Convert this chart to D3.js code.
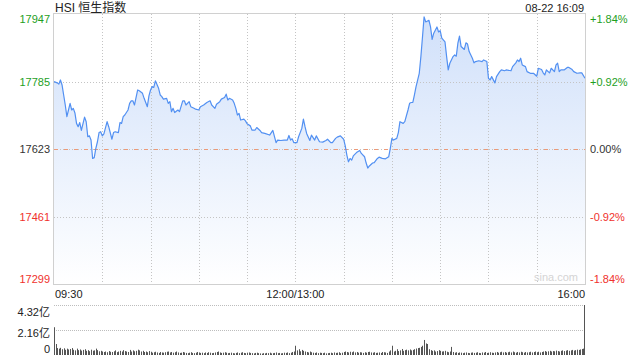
<!DOCTYPE html>
<html>
<head>
<meta charset="utf-8">
<script src="https://cdn.jsdelivr.net/npm/d3@7"></script>
<style>
  body { margin: 0; background: #fff; }
  text { font-family: "Liberation Sans", Arial, "Noto Sans CJK SC", sans-serif; }
</style>
</head>
<body>
<div id="chart"></div>
<script>
// trading minutes from 09:30 (0..150 morning, 150..330 afternoon 13:00-16:00)
var minutes = [0,2,3,4,5,6,7,8,9,10,11,12,13,14,15,16,17,19,20,21,22,23,24,25,26,27,28,29,30,31,33,34,36,37,38,40,41,42,43,44,46,47,48,49,50,52,53,55,56,58,59,60,61,62,63,65,66,67,68,70,71,72,73,74,75,77,78,80,81,82,84,85,87,88,90,91,93,95,97,98,100,101,103,104,106,107,108,109,111,112,113,114,115,116,118,119,120,122,123,125,126,128,129,131,134,136,138,139,141,143,145,146,147,148,149,151,152,154,155,156,157,159,160,162,163,165,167,169,170,172,173,175,176,178,180,181,182,183,184,185,186,188,190,191,193,194,195,196,198,199,201,202,204,206,208,209,210,211,213,214,215,217,218,220,221,222,223,224,225,227,228,229,230,231,233,234,235,236,238,239,240,241,243,244,245,246,248,249,250,251,252,253,255,256,257,258,260,261,262,264,266,267,269,270,271,272,274,275,277,278,280,281,284,285,287,288,289,290,291,293,294,296,298,300,301,303,304,305,306,308,309,311,312,313,314,315,317,319,320,322,323,325,327,328,330];
var prices = [17785,17782,17779,17789,17777,17753,17729,17701,17717,17733,17717,17721,17710,17685,17677,17687,17668,17700,17689,17653,17655,17645,17601,17603,17625,17641,17663,17665,17655,17660,17689,17677,17647,17663,17665,17663,17687,17685,17701,17705,17717,17733,17739,17739,17729,17765,17763,17757,17745,17725,17751,17765,17773,17771,17787,17769,17753,17749,17743,17745,17733,17737,17713,17721,17711,17717,17713,17739,17739,17729,17737,17725,17721,17719,17717,17725,17729,17735,17739,17729,17721,17731,17737,17743,17747,17755,17741,17745,17741,17733,17721,17705,17709,17693,17695,17691,17684,17679,17669,17669,17675,17668,17663,17661,17657,17668,17639,17645,17644,17645,17645,17656,17645,17648,17639,17639,17653,17673,17695,17677,17661,17644,17657,17645,17655,17641,17640,17644,17647,17639,17639,17649,17652,17655,17647,17631,17609,17593,17601,17597,17607,17615,17620,17613,17605,17590,17578,17583,17590,17591,17601,17604,17601,17600,17605,17625,17649,17645,17649,17663,17689,17685,17689,17717,17733,17735,17735,17753,17773,17805,17845,17892,17940,17928,17932,17916,17886,17901,17916,17904,17907,17889,17880,17845,17813,17829,17845,17849,17846,17877,17894,17869,17862,17878,17875,17857,17841,17830,17833,17835,17833,17837,17833,17793,17789,17797,17782,17797,17809,17813,17811,17813,17811,17821,17830,17837,17833,17841,17825,17821,17809,17805,17805,17798,17817,17814,17806,17801,17813,17806,17817,17809,17825,17829,17809,17813,17813,17819,17819,17814,17809,17805,17806,17806,17793];

// volume per minute, 亿 (index = trading minute, last = closing auction)
var volumes = [2.40,
  0.95,0.60,0.55,0.62,0.50,0.58,0.45,0.55,0.48,0.52,
  0.60,0.45,0.40,0.55,0.42,0.48,0.38,0.44,0.50,0.36,
  0.42,0.33,0.46,0.37,0.40,0.55,0.42,0.32,0.36,0.30,
  0.26,0.30,0.24,0.34,0.28,0.26,0.32,0.40,0.25,0.30,
  0.36,0.30,0.42,0.34,0.30,0.26,0.44,0.30,0.40,0.32,
  0.36,0.46,0.40,0.30,0.36,0.26,0.30,0.24,0.34,0.28,
  0.20,0.24,0.28,0.22,0.18,0.26,0.22,0.20,0.24,0.28,
  0.30,0.22,0.26,0.20,0.24,0.30,0.22,0.18,0.20,0.26,
  0.22,0.18,0.16,0.20,0.24,0.18,0.16,0.20,0.26,0.22,
  0.18,0.20,0.16,0.22,0.18,0.24,0.20,0.16,0.18,0.22,
  0.26,0.30,0.22,0.18,0.20,0.24,0.20,0.16,0.18,0.20,
  0.16,0.14,0.18,0.22,0.16,0.20,0.24,0.18,0.16,0.20,
  0.22,0.18,0.16,0.14,0.18,0.20,0.16,0.14,0.12,0.16,
  0.14,0.18,0.16,0.20,0.14,0.16,0.18,0.22,0.16,0.18,
  0.14,0.16,0.20,0.18,0.22,0.16,0.20,0.26,0.30,0.80,
  0.40,0.50,0.32,0.44,0.36,0.30,0.26,0.22,0.30,0.24,
  0.20,0.18,0.22,0.16,0.20,0.18,0.16,0.20,0.14,0.16,
  0.18,0.20,0.16,0.22,0.18,0.20,0.24,0.16,0.20,0.26,
  0.30,0.26,0.22,0.28,0.24,0.30,0.22,0.26,0.20,0.24,
  0.22,0.18,0.24,0.20,0.26,0.28,0.22,0.20,0.24,0.18,
  0.20,0.22,0.18,0.26,0.24,0.22,0.18,0.30,0.40,0.80,
  0.30,0.36,0.50,0.34,0.40,0.52,0.36,0.42,0.46,0.40,
  0.48,0.40,0.44,0.50,0.56,0.60,0.62,0.70,0.80,1.30,
  1.00,0.95,0.50,0.42,0.36,0.40,0.30,0.34,0.42,0.36,
  0.30,0.32,0.36,0.28,0.24,0.30,0.70,0.26,0.20,0.24,
  0.18,0.22,0.20,0.16,0.20,0.22,0.18,0.16,0.20,0.22,
  0.18,0.20,0.24,0.18,0.16,0.22,0.20,0.26,0.18,0.20,
  0.24,0.20,0.18,0.22,0.26,0.20,0.24,0.28,0.22,0.26,
  0.20,0.24,0.28,0.22,0.30,0.24,0.20,0.26,0.22,0.28,
  0.24,0.20,0.26,0.22,0.24,0.28,0.22,0.26,0.30,0.24,
  0.28,0.22,0.26,0.30,0.34,0.28,0.32,0.36,0.30,0.34,
  0.32,0.38,0.34,0.30,0.36,0.40,0.34,0.38,0.42,0.36,
  0.40,0.44,0.38,0.42,0.46,0.44,0.48,0.52,0.55,4.32];

var prevClose = 17623;
var priceTicks = [17947, 17785, 17623, 17461, 17299];
var pctLabels = ["+1.84%", "+0.92%", "0.00%", "-0.92%", "-1.84%"];
var timeLabels = ["09:30", "12:00/13:00", "16:00"];
var timeTickPos = [0, 150, 330];
var volTicks = [4.32, 2.16, 0];
var volLabels = ["4.32亿", "2.16亿", "0"];

function drawChart() {
  var W = 640, H = 360;
  var pLeft = 54, pRight = 585, pTop = 14, pBottom = 284.5;
  var vTop = 305, vBottom = 355;

  var svg = d3.select("#chart").append("svg")
    .attr("width", W).attr("height", H)
    .style("display", "block");

  var x = d3.scaleLinear().domain([0, 330]).range([pLeft, pRight]);
  var y = d3.scaleLinear().domain([17299, 17947]).range([pBottom, pTop]);
  var yv = d3.scaleLinear().domain([0, 4.32]).range([vBottom, vTop]);

  function colorFor(v) {
    if (v > prevClose) return "#1ea01e";
    if (v < prevClose) return "#f0312c";
    return "#333";
  }

  // gradient for the area
  var grad = svg.append("defs").append("linearGradient")
    .attr("id", "fillGrad")
    .attr("gradientUnits", "userSpaceOnUse")
    .attr("x1", 0).attr("x2", 0)
    .attr("y1", pTop).attr("y2", pBottom);
  grad.append("stop").attr("offset", "0%").attr("stop-color", "#d0e0fa");
  grad.append("stop").attr("offset", "100%").attr("stop-color", "#ffffff");

  // title
  svg.append("text")
    .attr("x", 55).attr("y", 12)
    .attr("font-size", 12).attr("fill", "#222")
    .text("HSI 恒生指数");
  svg.append("text")
    .attr("x", 584).attr("y", 12)
    .attr("text-anchor", "end")
    .attr("font-size", 11).attr("fill", "#222")
    .text("08-22 16:09");

  var pts = minutes.map(function (m, i) { return { t: m, p: prices[i] }; });

  // area
  var area = d3.area()
    .x(function (d) { return x(d.t); })
    .y0(pBottom)
    .y1(function (d) { return y(d.p); });
  svg.append("path")
    .datum(pts)
    .attr("d", area)
    .attr("fill", "url(#fillGrad)");

  // grid lines
  var gridG = svg.append("g");
  d3.range(30, 330, 30).forEach(function (m) {
    gridG.append("line")
      .attr("x1", Math.round(x(m)) + 0.5).attr("x2", Math.round(x(m)) + 0.5)
      .attr("y1", pTop).attr("y2", pBottom)
      .attr("stroke", "#c4c4c4").attr("stroke-dasharray", "1,2");
  });
  priceTicks.slice(1, 4).forEach(function (v) {
    gridG.append("line")
      .attr("x1", pLeft).attr("x2", pRight)
      .attr("y1", Math.round(y(v)) + 0.5).attr("y2", Math.round(y(v)) + 0.5)
      .attr("stroke", "#c4c4c4").attr("stroke-dasharray", "1,2");
  });
  gridG.append("line")
    .attr("x1", pLeft).attr("x2", pRight)
    .attr("y1", Math.round(y(prevClose)) + 0.5).attr("y2", Math.round(y(prevClose)) + 0.5)
    .attr("stroke", "#ec9a78").attr("stroke-dasharray", "4,6");

  // price line
  var line = d3.line()
    .x(function (d) { return x(d.t); })
    .y(function (d) { return y(d.p); });
  svg.append("path")
    .datum(pts)
    .attr("d", line)
    .attr("fill", "none")
    .attr("stroke", "#5290f2")
    .attr("stroke-width", 1.2)
    .attr("stroke-linejoin", "round");

  // frame
  svg.append("rect")
    .attr("x", pLeft - 0.5).attr("y", pTop - 0.5)
    .attr("width", pRight - pLeft + 1).attr("height", pBottom - pTop + 0.5)
    .attr("fill", "none").attr("stroke", "#d0d0d0");

  // watermark
  svg.append("text")
    .attr("x", 578).attr("y", 281)
    .attr("text-anchor", "end")
    .attr("font-size", 11).attr("fill", "#d4d4d4")
    .text("sina.com");

  // left / right labels
  priceTicks.forEach(function (v, i) {
    var yy = y(v) + 4;
    if (i == 0) yy = y(v) + 9;
    if (i == priceTicks.length - 1) yy = y(v) - 2;
    svg.append("text")
      .attr("x", 50).attr("y", yy)
      .attr("text-anchor", "end")
      .attr("font-size", 11).attr("fill", colorFor(v))
      .text(v);
    svg.append("text")
      .attr("x", 590).attr("y", yy)
      .attr("font-size", 11).attr("fill", colorFor(v))
      .text(pctLabels[i]);
  });

  // time labels
  var anchors = ["start", "middle", "end"];
  timeLabels.forEach(function (s, i) {
    svg.append("text")
      .attr("x", x(timeTickPos[i]) + (i == 0 ? 1 : 0)).attr("y", 298)
      .attr("text-anchor", anchors[i])
      .attr("font-size", 11).attr("fill", "#222")
      .text(s);
  });

  // volume grid
  [4.32, 2.16].forEach(function (v) {
    svg.append("line")
      .attr("x1", pLeft).attr("x2", pRight)
      .attr("y1", Math.round(yv(v)) + 0.5).attr("y2", Math.round(yv(v)) + 0.5)
      .attr("stroke", "#bdbdbd").attr("stroke-dasharray", "1,1");
  });
  var volLabelShift = [11, 7, -2];
  volTicks.forEach(function (v, i) {
    svg.append("text")
      .attr("x", 50).attr("y", yv(v) + volLabelShift[i])
      .attr("text-anchor", "end")
      .attr("font-size", 11).attr("fill", "#222")
      .text(volLabels[i]);
  });

  // volume bars
  svg.append("g")
    .selectAll("rect")
    .data(volumes)
    .join("rect")
    .attr("x", function (d, i) { return Math.min(Math.round(x(i)), pRight - 1); })
    .attr("y", function (d) { return yv(d); })
    .attr("width", 1)
    .attr("height", function (d) { return vBottom - yv(d); })
    .attr("fill", "#555");
}

drawChart();
</script>
</body>
</html>
